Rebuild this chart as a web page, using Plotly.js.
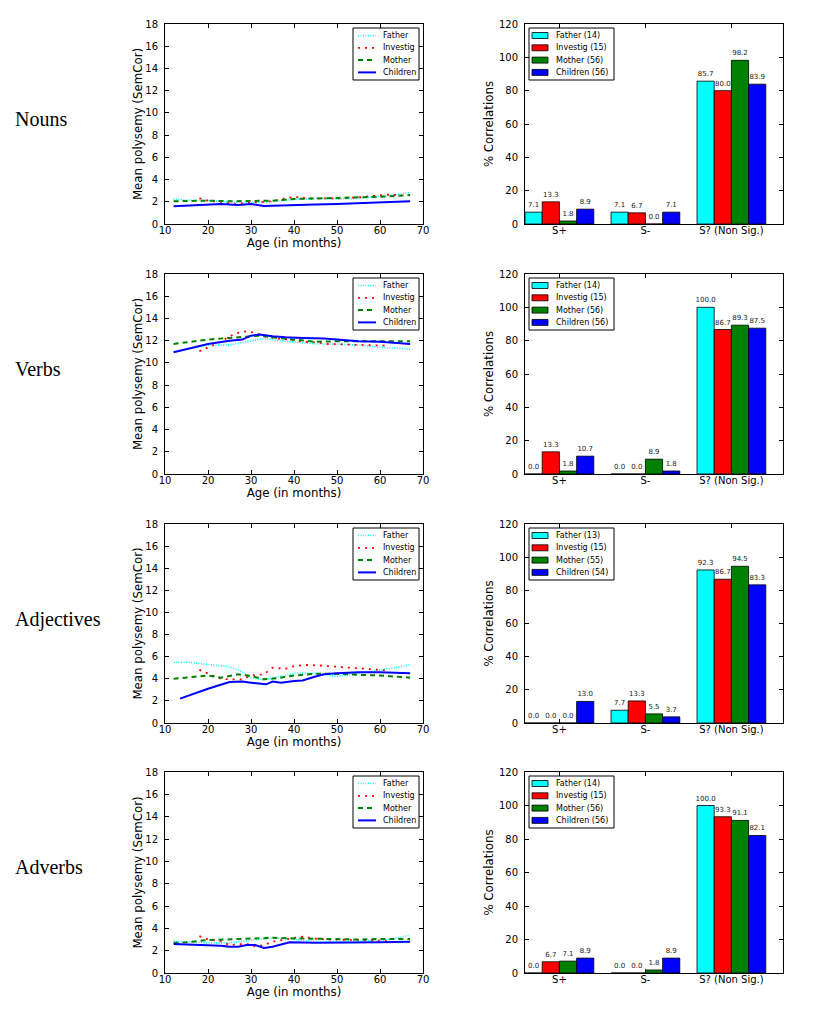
<!DOCTYPE html>
<html>
<head>
<meta charset="utf-8">
<script src="https://cdn.plot.ly/plotly-3.0.1.min.js"></script>
<style>
  html, body { margin: 0; padding: 0; background: #fff; }
  #chart { width: 830px; height: 1009px; }
</style>
</head>
<body>
<div id="chart"></div>
<script>
// ---- line charts: mean polysemy by age ----
const nounsFatherX = [12, 15, 20, 25, 30, 35, 40, 45, 50, 55, 60, 65, 67];
const nounsFatherY = [2.25, 2.15, 2.1, 2.0, 1.9, 2.0, 2.2, 2.3, 2.25, 2.3, 2.5, 2.7, 2.85];
const nounsInvestX = [18, 20, 23, 25, 27, 30, 33, 35, 38, 40, 43, 47, 50, 55, 58, 62, 65];
const nounsInvestY = [2.3, 2.1, 2.0, 1.85, 1.8, 1.95, 2.0, 2.05, 2.3, 2.45, 2.3, 2.3, 2.3, 2.4, 2.5, 2.65, 2.6];
const nounsMotherX = [12, 20, 25, 30, 35, 40, 45, 50, 55, 60, 67];
const nounsMotherY = [2.05, 2.1, 2.05, 2.05, 2.1, 2.25, 2.3, 2.3, 2.35, 2.45, 2.6];
const nounsChildX = [12, 20, 23, 27, 30, 33, 35, 38, 45, 50, 57, 63, 67];
const nounsChildY = [1.6, 1.75, 1.8, 1.7, 1.8, 1.62, 1.65, 1.7, 1.75, 1.8, 1.9, 2.0, 2.05];

const verbsFatherX = [12, 20, 25, 28, 30, 33, 37, 40, 45, 50, 55, 60, 67];
const verbsFatherY = [11.0, 11.6, 11.6, 11.8, 12.0, 12.2, 12.0, 11.9, 11.7, 11.7, 11.6, 11.4, 11.25];
const verbsInvestX = [18, 20, 23, 25, 27, 29, 31, 33, 36, 39, 42, 45, 48, 52, 56, 60, 62];
const verbsInvestY = [11.05, 11.4, 11.9, 12.4, 12.7, 12.85, 12.7, 12.4, 12.2, 12.1, 11.9, 11.85, 11.7, 11.65, 11.6, 11.55, 11.55];
const verbsMotherX = [12, 20, 25, 30, 32, 35, 40, 45, 50, 55, 60, 67];
const verbsMotherY = [11.7, 12.1, 12.25, 12.35, 12.45, 12.3, 12.1, 11.9, 11.95, 11.95, 11.95, 11.95];
const verbsChildX = [12, 20, 25, 28, 30, 32, 35, 38, 42, 47, 50, 55, 60, 65, 67];
const verbsChildY = [10.95, 11.7, 12.0, 12.1, 12.45, 12.55, 12.4, 12.3, 12.25, 12.2, 12.1, 11.95, 11.9, 11.75, 11.7];

const adjFatherX = [12, 15, 20, 25, 28, 30, 33, 35, 38, 40, 45, 50, 55, 60, 65, 67];
const adjFatherY = [5.5, 5.5, 5.3, 5.1, 4.6, 4.1, 3.9, 4.1, 4.3, 4.5, 4.5, 4.2, 4.5, 4.8, 5.1, 5.3];
const adjInvestX = [18, 20, 23, 25, 28, 30, 33, 35, 38, 40, 43, 46, 50, 54, 58, 62];
const adjInvestY = [4.8, 4.5, 4.0, 3.95, 3.95, 4.3, 4.4, 5.0, 4.9, 5.15, 5.25, 5.2, 5.1, 4.95, 4.85, 4.75];
const adjMotherX = [12, 20, 23, 27, 30, 33, 36, 40, 45, 50, 55, 60, 67];
const adjMotherY = [4.0, 4.3, 4.1, 4.4, 4.25, 3.95, 4.05, 4.3, 4.45, 4.45, 4.35, 4.3, 4.1];
const adjChildX = [13.5, 20, 25, 28, 30, 32, 33.5, 35, 37, 40, 42, 45, 47, 50, 55, 60, 67];
const adjChildY = [2.2, 3.1, 3.7, 3.75, 3.65, 3.6, 3.5, 3.75, 3.65, 3.8, 3.85, 4.2, 4.4, 4.5, 4.6, 4.6, 4.5];

const advFatherX = [12, 20, 25, 30, 35, 40, 45, 50, 55, 60, 65, 67];
const advFatherY = [2.85, 2.7, 2.7, 2.9, 3.15, 3.0, 2.8, 2.8, 2.85, 2.9, 3.2, 3.4];
const advInvestX = [18, 20, 23, 25, 28, 30, 31, 33, 35, 37, 40, 42, 44, 48, 52, 56, 60, 62];
const advInvestY = [3.3, 3.0, 2.85, 2.5, 2.6, 2.55, 2.35, 2.5, 2.8, 2.95, 3.15, 3.25, 3.1, 3.0, 3.0, 2.95, 2.9, 2.85];
const advMotherX = [12, 15, 20, 25, 30, 35, 40, 45, 50, 55, 60, 67];
const advMotherY = [2.7, 2.75, 2.95, 3.0, 3.05, 3.15, 3.1, 3.05, 3.05, 3.0, 3.05, 3.05];
const advChildX = [12, 20, 23, 25, 27, 29, 31, 33, 35, 37, 39, 45, 50, 55, 60, 67];
const advChildY = [2.6, 2.5, 2.45, 2.35, 2.35, 2.5, 2.5, 2.25, 2.35, 2.55, 2.75, 2.7, 2.7, 2.7, 2.75, 2.8];

// ---- bar charts: % correlations ----
const barCategories = ['S+', 'S-', 'S? (Non Sig.)'];
const seriesNames = ['Father', 'Investig', 'Mother', 'Children'];

const nounsBars = [[7.1, 7.1, 85.7], [13.3, 6.7, 80.0], [1.8, 0.0, 98.2], [8.9, 7.1, 83.9]];
const nounsCounts = [14, 15, 56, 56];
const verbsBars = [[0.0, 0.0, 100.0], [13.3, 0.0, 86.7], [1.8, 8.9, 89.3], [10.7, 1.8, 87.5]];
const verbsCounts = [14, 15, 56, 56];
const adjBars = [[0.0, 7.7, 92.3], [0.0, 13.3, 86.7], [0.0, 5.5, 94.5], [13.0, 3.7, 83.3]];
const adjCounts = [13, 15, 55, 54];
const advBars = [[0.0, 0.0, 100.0], [6.7, 0.0, 93.3], [7.1, 1.8, 91.1], [8.9, 8.9, 82.1]];
const advCounts = [14, 15, 56, 56];

const rowLabels = ['Nouns', 'Verbs', 'Adjectives', 'Adverbs'];

const W = 830, H = 1009;
const lineStyles = [
  { color: '#00ffff', width: 1.6, dash: '1px,1.5px' },
  { color: '#ff0000', width: 1.8, dash: '2px,5px' },
  { color: '#008000', width: 2, dash: '5px,4px' },
  { color: '#0000ff', width: 2, dash: 'solid' }
];
const barColors = ['#00ffff', '#ff0000', '#008000', '#0000ff'];

const rows = [
  { lines: [[nounsFatherX, nounsFatherY], [nounsInvestX, nounsInvestY], [nounsMotherX, nounsMotherY], [nounsChildX, nounsChildY]], bars: nounsBars, counts: nounsCounts, top: 24, bottom: 224 },
  { lines: [[verbsFatherX, verbsFatherY], [verbsInvestX, verbsInvestY], [verbsMotherX, verbsMotherY], [verbsChildX, verbsChildY]], bars: verbsBars, counts: verbsCounts, top: 274, bottom: 474 },
  { lines: [[adjFatherX, adjFatherY], [adjInvestX, adjInvestY], [adjMotherX, adjMotherY], [adjChildX, adjChildY]], bars: adjBars, counts: adjCounts, top: 524, bottom: 723 },
  { lines: [[advFatherX, advFatherY], [advInvestX, advInvestY], [advMotherX, advMotherY], [advChildX, advChildY]], bars: advBars, counts: advCounts, top: 772, bottom: 973 }
];

const font = 'DejaVu Sans, sans-serif';
const px = x => x / W;
const py = y => 1 - y / H;

const traces = [];
const shapes = [];
const annotations = [];
const layout = {
  width: W, height: H,
  margin: { l: 0, r: 0, t: 0, b: 0 },
  paper_bgcolor: '#fff', plot_bgcolor: '#fff',
  font: { family: font, size: 10, color: '#000' },
  showlegend: false,
  barmode: 'group', bargap: 0.2, bargroupgap: 0,
  shapes, annotations
};

const axisBase = {
  showline: true, mirror: 'allticks', linecolor: '#000', linewidth: 1,
  ticks: 'inside', ticklen: 4, tickcolor: '#000',
  showgrid: false, zeroline: false,
  tickfont: { family: font, size: 10 }
};
const titleFont = { family: font, size: 11.8 };
const legendFont = { family: font, size: 8, color: '#000' };

// small boxed legend drawn in page pixels
function addLegend(left, right, top, labels, drawKey) {
  shapes.push({
    type: 'rect', xref: 'paper', yref: 'paper', layer: 'above',
    x0: px(left), x1: px(right), y0: py(top + 52), y1: py(top),
    line: { color: '#000', width: 1 }, fillcolor: '#fff'
  });
  labels.forEach((label, k) => {
    const yc = top + 7.5 + k * 12.3;
    drawKey(k, yc);
    annotations.push({
      text: label, xref: 'paper', yref: 'paper', showarrow: false,
      x: px(drawKey.textX), xanchor: 'left', y: py(yc), yanchor: 'middle',
      font: legendFont
    });
  });
}

rows.forEach((row, i) => {
  const n = i * 2;
  const xl = 'x' + (n + 1), yl = 'y' + (n + 1);
  const xb = 'x' + (n + 2), yb = 'y' + (n + 2);
  const yDom = [py(row.bottom), py(row.top)];

  row.lines.forEach((s, k) => {
    traces.push({
      x: s[0], y: s[1], type: 'scatter', mode: 'lines',
      name: seriesNames[k], line: lineStyles[k],
      xaxis: xl, yaxis: yl
    });
  });

  seriesNames.forEach((name, k) => {
    traces.push({
      x: barCategories, y: row.bars[k], type: 'bar',
      name: `${name} (${row.counts[k]})`,
      marker: { color: barColors[k], line: { color: '#000', width: 0.8 } },
      texttemplate: '%{y:.1f}', textposition: 'outside', constraintext: 'none',
      textangle: 0, cliponaxis: false,
      textfont: { family: font, size: 7, color: '#222' },
      xaxis: xb, yaxis: yb, offsetgroup: String(k)
    });
  });

  layout['xaxis' + (n + 1)] = {
    ...axisBase, domain: [px(165), px(423)], anchor: yl,
    range: [10, 70], dtick: 10, ticklabelstandoff: -3,
    title: { text: 'Age (in months)', font: titleFont, standoff: 1 }
  };
  layout['yaxis' + (n + 1)] = {
    ...axisBase, domain: yDom, anchor: xl,
    range: [0, 18], dtick: 2, ticklabelstandoff: 4,
    title: { text: 'Mean polysemy (SemCor)', font: titleFont, standoff: 0 }
  };
  layout['xaxis' + (n + 2)] = {
    ...axisBase, domain: [px(525), px(783)], anchor: yb,
    type: 'category', range: [-0.4, 2.6], ticklabelstandoff: -3
  };
  layout['yaxis' + (n + 2)] = {
    ...axisBase, domain: yDom, anchor: xb,
    range: [0, 120], dtick: 20, ticklabelstandoff: 4,
    title: { text: '% Correlations', font: titleFont, standoff: 2 }
  };

  // line legend (top right)
  const lineKey = (k, yc) => {
    shapes.push({
      type: 'line', xref: 'paper', yref: 'paper', layer: 'above',
      x0: px(358), x1: px(376), y0: py(yc), y1: py(yc),
      line: lineStyles[k]
    });
  };
  lineKey.textX = 381;
  addLegend(353, 419, row.top + 4, seriesNames, lineKey);

  // bar legend (top left)
  const barKey = (k, yc) => {
    shapes.push({
      type: 'rect', xref: 'paper', yref: 'paper', layer: 'above',
      x0: px(532), x1: px(548), y0: py(yc + 3), y1: py(yc - 3),
      fillcolor: barColors[k], line: { color: '#000', width: 0.8 }
    });
  };
  barKey.textX = 554;
  addLegend(529, 614, row.top + 4, seriesNames.map((s, k) => `${s} (${row.counts[k]})`), barKey);

  annotations.push({
    text: rowLabels[i], xref: 'paper', yref: 'paper',
    x: px(13), xanchor: 'left', y: py(row.top + 95), yanchor: 'middle',
    showarrow: false, font: { family: 'Liberation Serif, serif', size: 20, color: '#000' }
  });
});

Plotly.newPlot('chart', traces, layout, { displayModeBar: false, staticPlot: true });
</script>
</body>
</html>
